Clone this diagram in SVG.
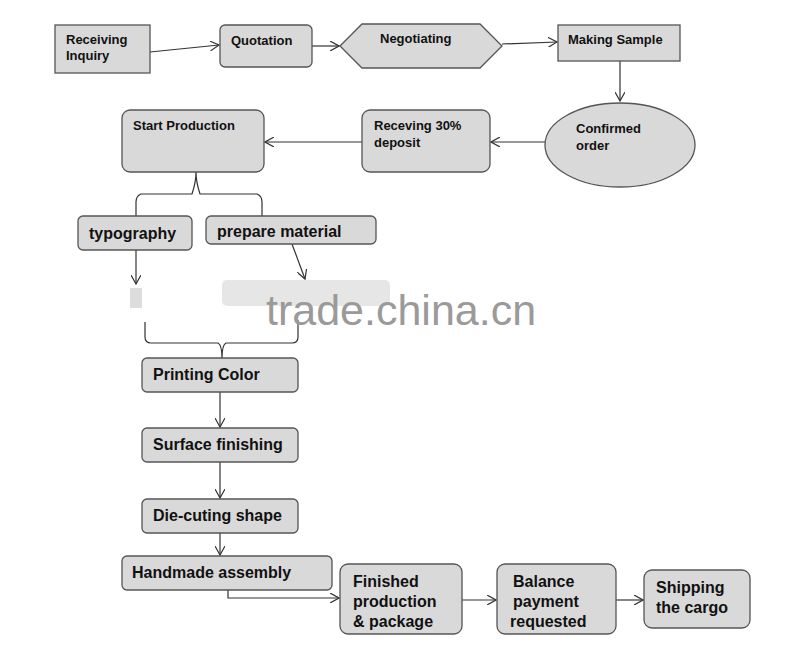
<svg xmlns="http://www.w3.org/2000/svg" width="800" height="645" viewBox="0 0 800 645">
<style>
.n{fill:#d9d9d9;stroke:#555;stroke-width:1.3}
.t{font-family:"Liberation Sans",Arial,sans-serif;font-weight:bold;fill:#111}
.s{font-size:13px}.m{font-size:16px}
.c{fill:none;stroke:#333;stroke-width:1.2}
</style>
<defs><marker id="a" markerWidth="10" markerHeight="10" refX="9" refY="5" orient="auto" markerUnits="userSpaceOnUse"><path d="M0,0 L9,5 L0,10" fill="none" stroke="#333" stroke-width="1.2"/></marker></defs>
<rect width="800" height="645" fill="#fff"/>
<g id="connectors">
<path class="c" d="M150,52 L219,45" marker-end="url(#a)"/>
<path class="c" d="M312,46 L339,46" marker-end="url(#a)"/>
<path class="c" d="M502,44 L557,42" marker-end="url(#a)"/>
<path class="c" d="M620,61 L620,101" marker-end="url(#a)"/>
<path class="c" d="M545,142 L491,142" marker-end="url(#a)"/>
<path class="c" d="M362,142 L265,142" marker-end="url(#a)"/>
<path class="c" d="M196,172 Q196,182 192,194 L141,194 Q136,196 136,202 L136,216 M196,172 Q196,182 200,194 L257,194 Q262,196 262,202 L262,216"/>
<path class="c" d="M136,250 L136,284" marker-end="url(#a)"/>
<path class="c" d="M292,244 L305,279" marker-end="url(#a)"/>
<path class="c" d="M145,322 L145,337 Q145,343 151,343 L218,343 Q222,345 222,358 M298,320 L298,337 Q298,343 292,343 L226,343 Q222,345 222,358"/>
<path class="c" d="M220,392 L220,427" marker-end="url(#a)"/>
<path class="c" d="M220,462 L220,498" marker-end="url(#a)"/>
<path class="c" d="M220,533 L220,555" marker-end="url(#a)"/>
<path class="c" d="M228,590 L228,598 L339,598" marker-end="url(#a)"/>
<path class="c" d="M462,600 L496,600" marker-end="url(#a)"/>
<path class="c" d="M616,600 L643,600" marker-end="url(#a)"/>
</g>
<g id="n1"><rect class="n" x="55" y="25" width="95" height="48"/><text class="t s" x="66" y="44">Receiving</text><text class="t s" x="66" y="60">Inquiry</text></g>
<g id="n2"><rect class="n" x="220" y="25" width="92" height="42" rx="5"/><text class="t s" x="231" y="45">Quotation</text></g>
<g id="n3"><polygon class="n" points="340,46 362,24 480,24 502,46 480,68 362,68"/><text class="t s" x="380" y="43">Negotiating</text></g>
<g id="n4"><rect class="n" x="558" y="25" width="122" height="36"/><text class="t s" x="568" y="44">Making Sample</text></g>
<g id="n5"><ellipse class="n" cx="620" cy="145" rx="75" ry="42"/><text class="t s" x="576" y="133">Confirmed</text><text class="t s" x="576" y="150">order</text></g>
<g id="n6"><rect class="n" x="362" y="110" width="128" height="62" rx="8"/><text class="t s" x="374" y="130">Receving 30%</text><text class="t s" x="374" y="147">deposit</text></g>
<g id="n7"><rect class="n" x="122" y="110" width="142" height="62" rx="8"/><text class="t s" x="133" y="130">Start Production</text></g>
<g id="n8"><rect class="n" x="78" y="216" width="114" height="34" rx="5"/><text class="t m" x="89" y="239">typography</text></g>
<g id="n9"><rect class="n" x="206" y="216" width="170" height="28" rx="5"/><text class="t m" x="217" y="237">prepare material</text></g>
<g id="n10"><rect x="222" y="280" width="168" height="26" rx="5" fill="#e6e6e6"/><rect x="130" y="288" width="12" height="20" fill="#ddd"/></g>
<text x="266" y="325" style="font-family:'Liberation Sans',Arial,sans-serif;font-size:43px;fill:#9a9a9a">trade.china.cn</text>
<g id="n11"><rect class="n" x="142" y="358" width="156" height="34" rx="5"/><text class="t m" x="153" y="380">Printing Color</text></g>
<g id="n12"><rect class="n" x="142" y="428" width="156" height="34" rx="5"/><text class="t m" x="153" y="450">Surface finishing</text></g>
<g id="n13"><rect class="n" x="142" y="499" width="156" height="34" rx="5"/><text class="t m" x="153" y="521">Die-cuting shape</text></g>
<g id="n14"><rect class="n" x="122" y="556" width="210" height="34" rx="5"/><text class="t m" x="132" y="578">Handmade assembly</text></g>
<g id="n15"><rect class="n" x="340" y="564" width="122" height="70" rx="8"/><text class="t m" x="353" y="587">Finished</text><text class="t m" x="353" y="607">production</text><text class="t m" x="353" y="627">&amp; package</text></g>
<g id="n16"><rect class="n" x="497" y="564" width="119" height="70" rx="8"/><text class="t m" x="513" y="587">Balance</text><text class="t m" x="513" y="607">payment</text><text class="t m" x="510" y="627">requested</text></g>
<g id="n17"><rect class="n" x="644" y="570" width="106" height="58" rx="8"/><text class="t m" x="656" y="593">Shipping</text><text class="t m" x="656" y="613">the cargo</text></g>
</svg>
